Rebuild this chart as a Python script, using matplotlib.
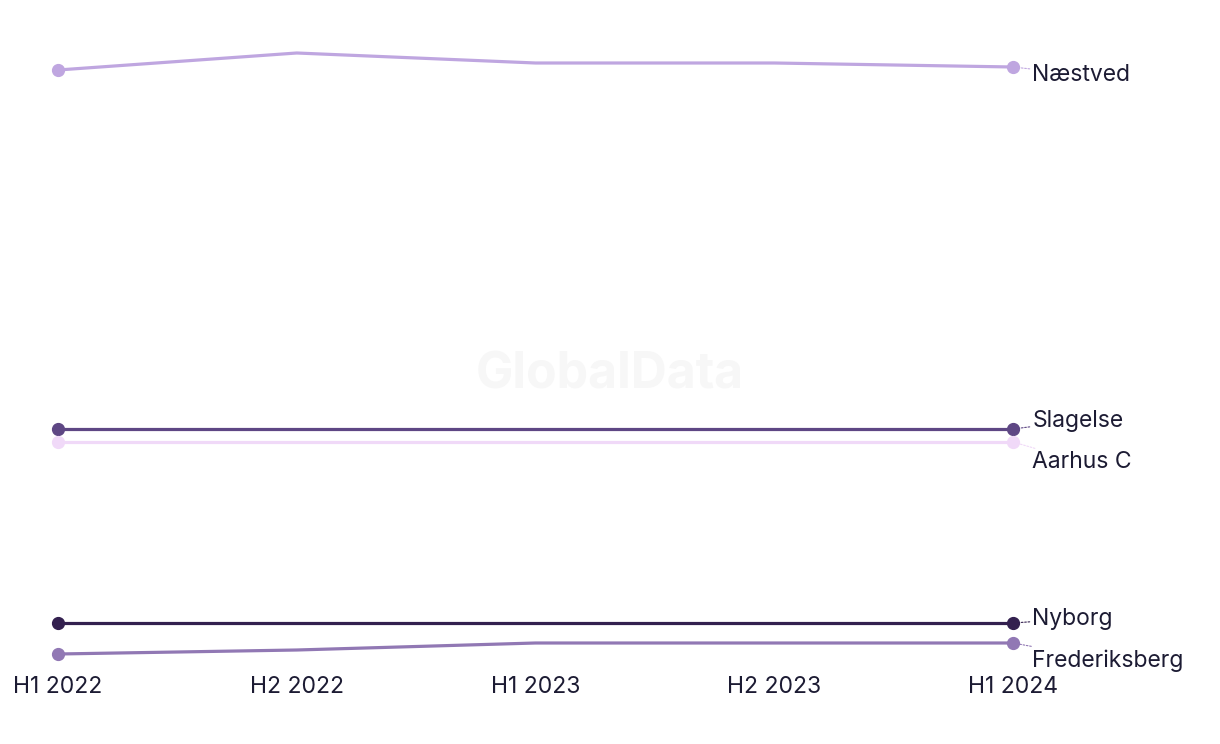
import numpy as np
import matplotlib.pyplot as plt

# periods and series (arbitrary units)
periods = ["H1 2022", "H2 2022", "H1 2023", "H2 2023", "H1 2024"]
naestved = [630, 647, 637, 637, 633]
slagelse = [271, 271, 271, 271, 271]
aarhus_c = [258, 258, 258, 258, 258]
nyborg = [77, 77, 77, 77, 77]
frederiksberg = [46, 50, 57, 57, 57]

series = [
    ("Næstved", naestved, "#bfa6e0", -5.5),
    ("Slagelse", slagelse, "#5e4784", 6),
    ("Aarhus C", aarhus_c, "#f0d9f8", -14.5),
    ("Nyborg", nyborg, "#33204f", 3),
    ("Frederiksberg", frederiksberg, "#9178b4", -12.5),
]

plt.rcParams["font.family"] = ["Inter", "DejaVu Sans"]
text_col = "#1c1b33"
fs = 16.5

fig = plt.figure(figsize=(12.2, 7.44), dpi=100)
ax = fig.add_axes([58 / 1220, 79 / 744, 955 / 1220, 625 / 744])
x = np.arange(len(periods))

for name, vals, col, dy in series:
    ax.plot(x, vals, color=col, lw=2.3, marker="o", ms=8.5, zorder=3,
            markevery=[0, len(x) - 1], solid_capstyle="round")
    ax.annotate(name, xy=(x[-1], vals[-1]), xytext=(14, dy),
                textcoords="offset points", va="center", ha="left",
                fontsize=fs, color=text_col,
                arrowprops=dict(arrowstyle="-", color=col, lw=0.8,
                                linestyle=(0, (1.5, 1.5)),
                                shrinkA=0, shrinkB=2))

fig.text(0.5, 1 - 375 / 744, "GlobalData", ha="center", va="center",
         fontsize=36, fontweight="bold", color="#f7f7f7", zorder=0)

ax.set_xlim(0, 4)
ax.set_ylim(35, 660)
ax.set_xticks(x)
ax.set_xticklabels(periods, fontsize=fs, color=text_col)
ax.tick_params(axis="x", length=0, pad=8)
ax.set_yticks([])
for s in ax.spines.values():
    s.set_visible(False)
ax.patch.set_alpha(0)
for line in ax.lines:
    line.set_clip_on(False)

fig.savefig("out.png", dpi=100)
